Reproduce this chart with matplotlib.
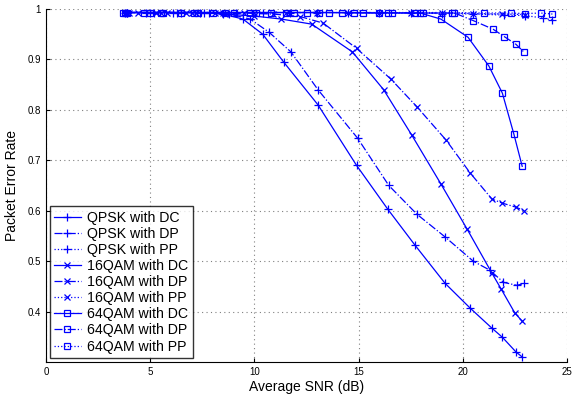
import matplotlib
matplotlib.use("Agg")
import matplotlib.pyplot as plt

# ---- data ----
qpsk_dc_x = [3.8, 4.8, 6.1, 7.4, 8.5, 9.45, 10.4, 11.4, 13.05, 14.9, 16.4, 17.7, 19.15, 20.35, 21.4, 21.9, 22.55, 22.85]
qpsk_dc_y = [0.993, 0.993, 0.993, 0.993, 0.99, 0.98, 0.95, 0.895, 0.81, 0.69, 0.603, 0.532, 0.456, 0.407, 0.367, 0.349, 0.32, 0.31]

qpsk_dp_x = [3.9, 5.0, 6.3, 7.6, 8.8, 9.8, 10.7, 11.75, 13.05, 14.95, 16.45, 17.8, 19.15, 20.5, 21.3, 21.95, 22.6, 22.95]
qpsk_dp_y = [0.993, 0.993, 0.993, 0.993, 0.99, 0.98, 0.954, 0.915, 0.84, 0.744, 0.65, 0.593, 0.548, 0.5, 0.482, 0.458, 0.452, 0.456]

qpsk_pp_x = [3.9, 5.2, 6.5, 7.8, 9.1, 10.4, 11.7, 13.0, 14.5, 16.0, 17.5, 19.0, 20.5, 22.0, 23.0, 23.85, 24.3]
qpsk_pp_y = [0.993, 0.993, 0.993, 0.993, 0.993, 0.993, 0.993, 0.993, 0.993, 0.992, 0.992, 0.991, 0.99, 0.988, 0.987, 0.982, 0.978]

qam16_dc_x = [3.8, 4.4, 5.8, 7.2, 8.6, 10.0, 11.3, 12.75, 14.7, 16.2, 17.55, 18.95, 20.2, 21.4, 21.85, 22.5, 22.85]
qam16_dc_y = [0.993, 0.993, 0.993, 0.993, 0.99, 0.986, 0.98, 0.97, 0.915, 0.84, 0.75, 0.653, 0.564, 0.476, 0.444, 0.397, 0.381]

qam16_dp_x = [3.9, 5.3, 6.7, 8.1, 9.5, 10.9, 12.2, 13.3, 14.9, 16.55, 17.8, 19.2, 20.35, 21.4, 21.9, 22.55, 22.95]
qam16_dp_y = [0.993, 0.993, 0.993, 0.993, 0.992, 0.99, 0.985, 0.972, 0.922, 0.861, 0.806, 0.74, 0.675, 0.623, 0.615, 0.607, 0.6]

qam16_pp_x = [4.0, 5.5, 7.0, 8.5, 10.0, 11.5, 13.0, 14.5, 16.0, 17.5, 19.0, 20.5, 21.9, 23.0]
qam16_pp_y = [0.993, 0.993, 0.993, 0.993, 0.993, 0.993, 0.993, 0.993, 0.992, 0.992, 0.992, 0.991, 0.99, 0.989]

qam64_dc_x = [3.7, 4.7, 5.5, 7.1, 8.6, 10.1, 11.9, 13.6, 15.2, 16.6, 17.95, 18.95, 20.25, 21.25, 21.9, 22.45, 22.85]
qam64_dc_y = [0.993, 0.993, 0.993, 0.993, 0.993, 0.993, 0.993, 0.993, 0.992, 0.992, 0.992, 0.98, 0.944, 0.887, 0.833, 0.752, 0.688]

qam64_dp_x = [3.8, 5.0, 6.5, 8.0, 9.8, 11.5, 13.1, 14.8, 16.4, 18.1, 19.6, 20.5, 21.45, 22.0, 22.55, 22.95]
qam64_dp_y = [0.993, 0.993, 0.993, 0.993, 0.993, 0.993, 0.993, 0.993, 0.993, 0.992, 0.992, 0.977, 0.96, 0.945, 0.93, 0.914]

qam64_pp_x = [3.9, 5.6, 7.3, 9.0, 10.8, 12.5, 14.2, 16.0, 17.7, 19.5, 21.0, 22.3, 23.0, 23.75, 24.3]
qam64_pp_y = [0.993, 0.993, 0.993, 0.993, 0.993, 0.993, 0.993, 0.993, 0.993, 0.993, 0.992, 0.992, 0.991, 0.992, 0.99]

labels = ["QPSK with DC", "QPSK with DP", "QPSK with PP",
          "16QAM with DC", "16QAM with DP", "16QAM with PP",
          "64QAM with DC", "64QAM with DP", "64QAM with PP"]

x_ticks = [0, 5, 10, 15, 20, 25]
y_ticks = [0.4, 0.5, 0.6, 0.7, 0.8, 0.9, 1.0]
y_tick_labels = ["0.4", "0.5", "0.6", "0.7", "0.8", "0.9", "1"]

series = [
    (qpsk_dc_x, qpsk_dc_y, "-", "+"),
    (qpsk_dp_x, qpsk_dp_y, "-.", "+"),
    (qpsk_pp_x, qpsk_pp_y, ":", "+"),
    (qam16_dc_x, qam16_dc_y, "-", "x"),
    (qam16_dp_x, qam16_dp_y, "-.", "x"),
    (qam16_pp_x, qam16_pp_y, ":", "x"),
    (qam64_dc_x, qam64_dc_y, "-", "s"),
    (qam64_dp_x, qam64_dp_y, "-.", "s"),
    (qam64_pp_x, qam64_pp_y, ":", "s"),
]

plt.rcParams['font.family'] = ['Liberation Sans', 'DejaVu Sans']

fig = plt.figure(figsize=(5.8, 3.94), dpi=100)
ax = fig.add_axes([46/580, 1-362/394, (567-46)/580, (362-9)/394])

msize = {"+": 5.5, "x": 4.0, "s": 4.5}
for (xs, ys, ls, mk), lab in zip(series, labels):
    kw = dict(color="#0000ff", linestyle=ls, linewidth=0.9, marker=mk, markersize=msize[mk],
              markeredgewidth=0.9, label=lab)
    if mk == "s":
        kw["markerfacecolor"] = "none"
    ax.plot(xs, ys, **kw)

ax.set_xlim(0, 25)
ax.set_ylim(0.3, 1.0)
ax.set_xticks(x_ticks)
ax.set_yticks(y_ticks)
ax.set_yticklabels(y_tick_labels)
ax.tick_params(direction="in", labelsize=7, length=3, top=False, right=False)
ax.grid(True, linestyle=(0, (1, 3)), color="#808080", linewidth=0.8)
for s in ["top", "right"]:
    ax.spines[s].set_visible(False)
ax.set_xlabel("Average SNR (dB)", fontsize=10, labelpad=2)
ax.set_ylabel("Packet Error Rate", fontsize=10, labelpad=6)

leg = ax.legend(loc="lower left", bbox_to_anchor=(0.007, 0.012), fontsize=10.2, frameon=True,
                fancybox=False, edgecolor="black", handlelength=1.9, handletextpad=0.45,
                labelspacing=0.15, borderpad=0.3, borderaxespad=0)
leg.get_frame().set_linewidth(1.0)

fig.savefig("out.png", dpi=100)
